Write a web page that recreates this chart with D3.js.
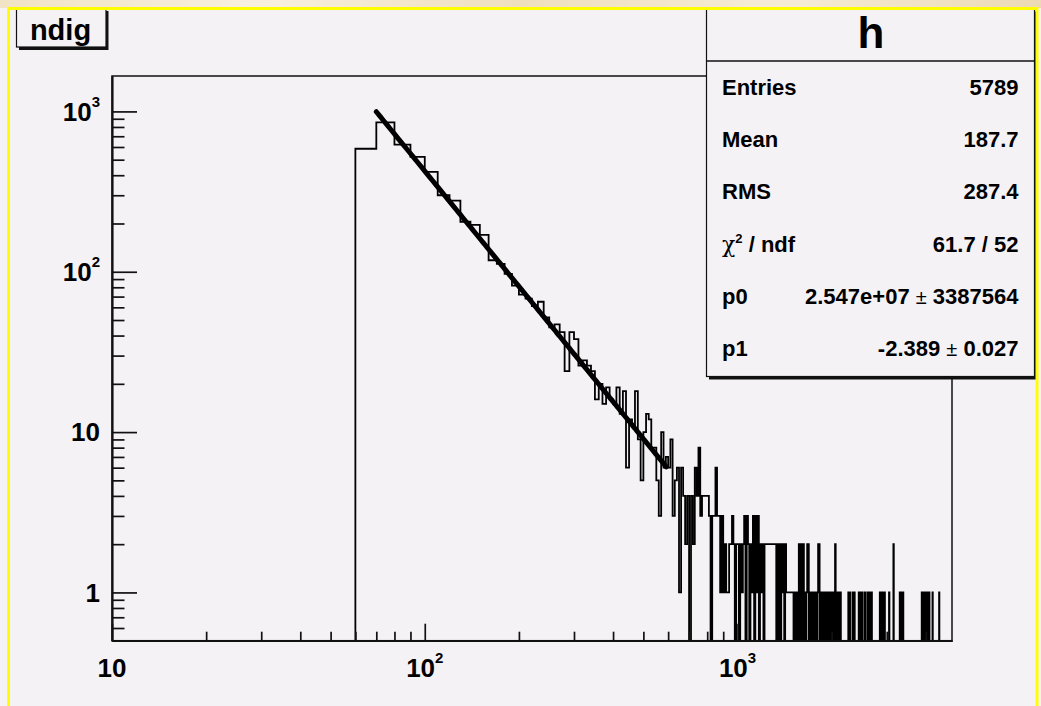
<!DOCTYPE html>
<html><head><meta charset="utf-8">
<script src="https://cdn.jsdelivr.net/npm/d3@7"></script>
<style>
html,body{margin:0;padding:0;background:#f5f2f6;}
svg{display:block;}
text{font-family:"Liberation Sans",Arial,Helvetica,sans-serif;font-weight:bold;fill:#000;}
</style></head><body>
<svg id="c" width="1041" height="706"></svg>
<script>
// ---------------- data ----------------
const histTitle = "ndig";
const statsName = "h";
const statLabels = ["Entries", "Mean", "RMS", "chi2", "p0", "p1"];
const statValues = ["5789", "187.7", "287.4", "61.7 / 52", "2.547e+07|3387564", "-2.389|0.027"];
const binWidth = 10;
const firstBinLow = 60;
// counts of bins 60-70, 70-80, ..., 990-1000
const mainCounts = [
  585, 854, 620, 520, 420, 300, 278, 205, 196, 170,
  118, 112, 97, 82, 72, 68, 61, 65, 52, 45,
  47, 42, 24, 42, 38, 26, 28, 26, 24, 16,
  20, 15, 19, 16, 15, 19, 13, 18, 6, 12,
  11, 18, 9, 5, 10, 13, 12, 8, 8, 5,
  3, 10, 6, 7, 6, 9, 3, 5, 6, 1,
  6, 4, 2, 4, 0, 4, 2, 6, 4, 8,
  3, 4, 4, 4, 4, 3, 0, 3, 3, 6,
  3, 3, 1, 3, 1, 2, 1, 1, 2, 2,
  3, 2, 0, 2
];
// non-empty bins above 1000 (low edge, count)
const tailLow = [
  1000,1020,1030,1040,1050,1070,1080,1100,1110,1120,
  1140,1150,1160,1180,1190,1200,1220,1230,1240,1250,
  1260,1270,1280,1290,1300,1310,1320,1340,1360,1380,
  1390,1400,1420,1430,1440,1450,1460,1470,1480,1490,
  1500,1520,1540,1560,1570,1590,1610,1620,1640,1660,
  1670,1680,1700,1720,1740,1760,1780,1800,1810,1820,
  1840,1870,1890,1910,1930,1950,1970,1990,2010,2030,
  2050,2070,2090,2110,2130,2260,2280,2330,2360,2440,
  2460,2500,2550,2600,2640,2680,2850,2870,2890,2910,
  2930,2950,3050,3150,3300,3320,3340,3360,3380,3880,
  3900,3920,3940,3960,3980,4000,4020,4040,4060,4080,
  4100,4200,4410
];
const tailCounts = [
  2,2,1,2,3,3,2,2,1,3,
  3,1,3,2,1,2,2,2,2,2,
  2,2,2,2,2,2,2,2,2,2,
  1,2,2,1,1,1,1,1,1,1,
  1,1,1,1,2,2,1,2,1,1,
  2,2,1,1,1,1,1,1,2,2,
  1,1,1,1,1,1,1,1,1,1,
  2,1,1,1,1,1,1,1,1,1,
  1,1,1,1,1,1,1,1,1,1,
  1,1,1,2,1,1,1,1,1,1,
  1,1,1,1,1,1,1,1,1,1,
  1,1,1
];
const fitP0 = 2.547e7;
const fitP1 = -2.389;
const fitRange = [70, 592];
const xDomain = [10, 4850];
const yDomain = [0.5, 1663];
const xMajorTicks = [10, 100, 1000];
const xMajorBase = ["10", "10", "10"];
const xMajorExp = ["", "2", "3"];
const xMinorTicks = [20,30,40,50,60,70,80,90,200,300,400,500,600,700,800,900,2000,3000,4000];
const yMajorTicks = [1, 10, 100, 1000];
const yMajorBase = ["1", "10", "10", "10"];
const yMajorExp = ["", "", "2", "3"];
const yMinorTicks = [0.6,0.7,0.8,0.9,2,3,4,5,6,7,8,9,20,30,40,50,60,70,80,90,200,300,400,500,600,700,800,900];

// ---------------- drawing ----------------
const W = 1041, H = 706;
const PAD = "#f5f2f6";
const INK = "#111";
const fx0 = 112, fx1 = 952, fy0 = 76, fy1 = 640.7;
const svg = d3.select("#c");
const defs = svg.append("defs");

svg.append("rect").attr("width", W).attr("height", H).attr("fill", PAD);
const band = defs.append("linearGradient").attr("id", "band").attr("x1", 0).attr("x2", 1).attr("y1", 0).attr("y2", 0);
[[0, "#f1e3c4"], [0.25, "#f8f0de"], [0.5, "#efdfbd"], [0.75, "#f6ecd6"], [1, "#ecdab4"]]
  .forEach(([o, c]) => band.append("stop").attr("offset", o).attr("stop-color", c));
svg.append("rect").attr("x", 0).attr("y", 0).attr("width", W).attr("height", 8).attr("fill", "url(#band)");

const x = d3.scaleLog().domain(xDomain).range([fx0, fx1]);
const y = d3.scaleLog().domain(yDomain).range([fy1, fy0]);

defs.append("clipPath").attr("id", "frameClip").append("rect")
  .attr("x", fx0).attr("y", fy0).attr("width", fx1 - fx0).attr("height", fy1 - fy0);

// histogram bins
const countMap = new Map();
mainCounts.forEach((c, i) => countMap.set(firstBinLow + i * binWidth, c));
tailLow.forEach((lo, i) => countMap.set(lo, tailCounts[i]));
const bins = [];
for (let lo = xDomain[0]; lo < xDomain[1]; lo += binWidth) {
  bins.push({ lo: lo, c: countMap.get(lo) || 0 });
}
bins.push({ lo: xDomain[1], c: bins[bins.length - 1].c });
const yOf = c => c > 0 ? y(c) : fy1 + 1;
const stepLine = d3.line().x(d => x(d.lo)).y(d => yOf(d.c)).curve(d3.curveStepAfter);

const plot = svg.append("g").attr("clip-path", "url(#frameClip)");
plot.append("path").attr("d", stepLine(bins)).attr("fill", "none")
  .attr("stroke", "#000").attr("stroke-width", 1.8);

// fit function
const fitPts = d3.range(fitRange[0], fitRange[1] + 0.01, 2).map(v => ({ v: v, f: fitP0 * Math.pow(v, fitP1) }));
plot.append("path").attr("d", d3.line().x(d => x(d.v)).y(d => y(d.f))(fitPts))
  .attr("fill", "none").attr("stroke", "#000").attr("stroke-width", 5).attr("stroke-linecap", "round");

// frame
svg.append("rect").attr("x", fx0).attr("y", fy0).attr("width", fx1 - fx0).attr("height", fy1 - fy0)
  .attr("fill", "none").attr("stroke", INK).attr("stroke-width", 1.5);

// axes
function styleAxis(g) {
  g.selectAll(".domain").attr("stroke", INK).attr("stroke-width", 1.7);
  g.selectAll(".tick line").attr("stroke", INK).attr("stroke-width", 1.7);
  g.selectAll(".tick text").remove();
}
svg.append("g").attr("transform", `translate(0,${fy1})`)
  .call(d3.axisBottom(x).tickValues(xMajorTicks).tickSizeInner(-17).tickSizeOuter(0).tickFormat(""))
  .call(styleAxis);
svg.append("g").attr("transform", `translate(0,${fy1})`)
  .call(d3.axisBottom(x).tickValues(xMinorTicks).tickSizeInner(-9).tickSizeOuter(0).tickFormat(""))
  .call(styleAxis);
svg.append("g").attr("transform", `translate(${fx0},0)`)
  .call(d3.axisLeft(y).tickValues(yMajorTicks).tickSizeInner(-25).tickSizeOuter(0).tickFormat(""))
  .call(styleAxis);
svg.append("g").attr("transform", `translate(${fx0},0)`)
  .call(d3.axisLeft(y).tickValues(yMinorTicks).tickSizeInner(-12.5).tickSizeOuter(0).tickFormat(""))
  .call(styleAxis);

// axis labels
const AX_FS = 26, SUP_FS = 15;
xMajorTicks.forEach((v, i) => {
  const t = svg.append("text").attr("x", x(v)).attr("y", 677).attr("text-anchor", "middle")
    .style("font-size", AX_FS + "px").text(xMajorBase[i]);
  if (xMajorExp[i]) t.append("tspan").attr("dy", -14).style("font-size", SUP_FS + "px").text(xMajorExp[i]);
});
yMajorTicks.forEach((v, i) => {
  const t = svg.append("text").attr("x", 100).attr("y", y(v) + 9.3).attr("text-anchor", "end")
    .style("font-size", AX_FS + "px").text(yMajorBase[i]);
  if (yMajorExp[i]) t.append("tspan").attr("dy", -14).style("font-size", SUP_FS + "px").text(yMajorExp[i]);
});

// title box
svg.append("rect").attr("x", 19).attr("y", 11).attr("width", 89.5).attr("height", 39).attr("fill", INK);
svg.append("rect").attr("x", 16.5).attr("y", 8.5).attr("width", 89.5).attr("height", 38.5)
  .attr("fill", PAD).attr("stroke", INK).attr("stroke-width", 1.2);
svg.append("text").attr("x", 60.5).attr("y", 39.5).attr("text-anchor", "middle")
  .style("font-size", "29px").text(histTitle);

// stats box
const sx0 = 706.5, sx1 = 1034.5, sy0 = 8.5, sy1 = 376.5;
svg.append("rect").attr("x", sx0 + 2.5).attr("y", sy0 + 3).attr("width", sx1 - sx0).attr("height", sy1 - sy0)
  .attr("fill", INK);
svg.append("rect").attr("x", sx0).attr("y", sy0).attr("width", sx1 - sx0).attr("height", sy1 - sy0)
  .attr("fill", PAD).attr("stroke", INK).attr("stroke-width", 1.2);
svg.append("line").attr("x1", sx0).attr("x2", sx1).attr("y1", 61).attr("y2", 61)
  .attr("stroke", INK).attr("stroke-width", 1.4);
svg.append("text").attr("x", 871).attr("y", 48.3).attr("text-anchor", "middle")
  .style("font-size", "44px").text(statsName);

const ST_FS = 22;
statLabels.forEach((lab, i) => {
  const by = 95 + i * 52.2;
  const t = svg.append("text").attr("x", 722).attr("y", by).style("font-size", ST_FS + "px");
  if (lab === "chi2") {
    t.append("tspan").style("font-family", "'DejaVu Serif',serif").style("font-weight", "normal")
      .style("font-size", "22px").text("χ");
    t.append("tspan").attr("dy", -9).style("font-size", "13px").text("2");
    t.append("tspan").attr("dy", 9).text(" / ndf");
  } else {
    t.text(lab);
  }
  const val = statValues[i];
  const vt = svg.append("text").attr("x", 1018.5).attr("y", by).attr("text-anchor", "end")
    .style("font-size", ST_FS + "px");
  if (val.indexOf("|") >= 0) {
    const [a, b] = val.split("|");
    vt.append("tspan").text(a + " ");
    vt.append("tspan").style("font-weight", "normal").style("font-size", "20px").text("±");
    vt.append("tspan").text(" " + b);
  } else {
    vt.text(val);
  }
});

// window border
svg.append("path").attr("d", "M8.5,706 V8.5 H1037 V706").attr("fill", "none")
  .attr("stroke", "#ffff00").attr("stroke-width", 3);
</script>
</body></html>
